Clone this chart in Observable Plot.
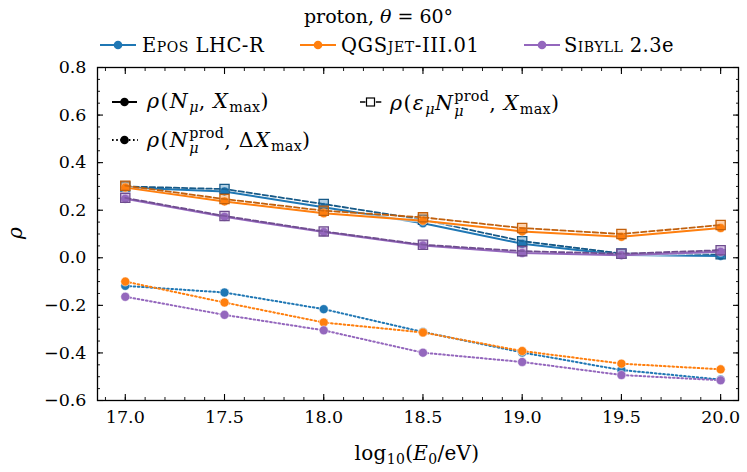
<!DOCTYPE html>
<html><head><meta charset="utf-8">
<script src="https://cdn.jsdelivr.net/npm/d3@7"></script>
<script src="https://cdn.jsdelivr.net/npm/@observablehq/plot@0.6"></script>
<style>
body{margin:0;background:#fff;}
#wrap{position:relative;width:747px;height:472px;font-family:"DejaVu Serif","Liberation Serif","Times New Roman","Noto Serif",Times,serif;color:#000;overflow:hidden;}
#head{position:relative;height:58px;}
.abs{position:absolute;white-space:nowrap;line-height:1;}
.sc{font-variant:small-caps;}
.m{letter-spacing:1.4px;}
sub,sup{font-size:70%;line-height:0;letter-spacing:0.3px;}
sub{vertical-align:-0.3em;}
sup{vertical-align:0.55em;}
.ss{display:inline-block;font-size:70%;line-height:1.05;vertical-align:-0.42em;letter-spacing:0.3px;}
.ss span{display:block;}
i{font-style:italic;}
</style></head><body>
<div id="wrap">
  <div id="head">
    <div class="abs" style="left:0;width:757px;text-align:center;top:7px;font-size:19px;">proton, <i>θ</i> = 60°</div>
    <svg class="abs" style="left:99px;top:38px" width="38" height="14"><line x1="1" y1="7" x2="37" y2="7" stroke="#1f77b4" stroke-width="2"/><circle cx="19" cy="7" r="4.3" fill="#1f77b4"/></svg>
    <div class="abs" style="left:142px;top:36px;font-size:19.5px;letter-spacing:0.5px;"><span class="sc">Epos</span> LHC-R</div>
    <svg class="abs" style="left:299px;top:38px" width="38" height="14"><line x1="1" y1="7" x2="37" y2="7" stroke="#ff7f0e" stroke-width="2"/><circle cx="19" cy="7" r="4.3" fill="#ff7f0e"/></svg>
    <div class="abs" style="left:341px;top:36px;font-size:19.5px;letter-spacing:0.6px;">QGS<span class="sc">jet</span>-III.01</div>
    <svg class="abs" style="left:523px;top:38px" width="38" height="14"><line x1="1" y1="7" x2="37" y2="7" stroke="#9467bd" stroke-width="2"/><circle cx="19" cy="7" r="4.3" fill="#9467bd"/></svg>
    <div class="abs" style="left:564px;top:36px;font-size:19.5px;letter-spacing:0.4px;"><span class="sc">Sibyll</span> 2.3e</div>
  </div>
  <div id="chart"></div>
  <!-- inner legend -->
  <svg class="abs" style="left:111px;top:95px" width="28" height="14"><line x1="1" y1="7" x2="26" y2="7" stroke="#000" stroke-width="2"/><circle cx="13.5" cy="7" r="4.3" fill="#000"/></svg>
  <div class="abs m" style="left:147px;top:91px;font-size:20.5px;"><i>ρ</i>(<i>N</i><sub><i>μ</i></sub>,&#8197;<i>X</i><sub>max</sub>)</div>
  <svg class="abs" style="left:111px;top:133px" width="28" height="14"><line x1="1" y1="7" x2="27" y2="7" stroke="#000" stroke-width="2" stroke-dasharray="1.6,2.6"/><circle cx="13.5" cy="7" r="4.3" fill="#000"/></svg>
  <div class="abs m" style="left:147px;top:126px;font-size:20.5px;"><i>ρ</i>(<i>N</i><span class="ss"><span>prod</span><span><i>μ</i></span></span>,&#8197;Δ<i>X</i><sub>max</sub>)</div>
  <svg class="abs" style="left:359px;top:95px" width="24" height="14"><line x1="1" y1="7" x2="23" y2="7" stroke="#000" stroke-width="1.6" stroke-dasharray="5.5,2.4"/><rect x="7.5" y="3" width="8" height="8" fill="#fff" stroke="#000" stroke-width="1.2"/></svg>
  <div class="abs m" style="left:390px;top:89px;font-size:20.5px;"><i>ρ</i>(<i>ε</i><sub><i>μ</i></sub><i>N</i><span class="ss"><span>prod</span><span><i>μ</i></span></span>,&#8197;<i>X</i><sub>max</sub>)</div>
  <!-- axis labels -->
  <div class="abs" style="left:0;width:834px;text-align:center;top:443px;font-size:20px;letter-spacing:0.3px;">log<sub>10</sub>(<i>E</i><sub>0</sub>/eV)</div>
  <div class="abs" style="left:9px;top:223px;font-size:20px;transform:rotate(-90deg);transform-origin:center;"><i>ρ</i></div>
</div>
<script>
// ---- data ----
const energies = [17.0, 17.5, 18.0, 18.5, 19.0, 19.5, 20.0];
const models = ["Epos LHC-R", "QGSjet-III.01", "Sibyll 2.3e"];
const colors = ["#1f77b4", "#ff7f0e", "#9467bd"];
const darkColors = ["#175a88", "#c2600c", "#6f4d8f"];

// rho(N_mu, X_max)  — solid, circles
const rhoNmuXmax_epos = [0.295, 0.279, 0.212, 0.145, 0.059, 0.012, 0.008];
const rhoNmuXmax_qgs  = [0.295, 0.237, 0.187, 0.156, 0.111, 0.088, 0.125];
const rhoNmuXmax_sib  = [0.248, 0.172, 0.108, 0.052, 0.020, 0.011, 0.025];
// rho(eps_mu N_mu^prod, X_max) — dashed, squares
const rhoEpsNprodXmax_epos = [0.300, 0.289, 0.226, 0.160, 0.070, 0.018, 0.015];
const rhoEpsNprodXmax_qgs  = [0.303, 0.247, 0.198, 0.170, 0.125, 0.100, 0.138];
const rhoEpsNprodXmax_sib  = [0.252, 0.176, 0.111, 0.055, 0.028, 0.017, 0.032];
// rho(N_mu^prod, dX_max) — dotted, circles
const rhoNprodDXmax_epos = [-0.118, -0.146, -0.216, -0.312, -0.398, -0.472, -0.512];
const rhoNprodDXmax_qgs  = [-0.100, -0.188, -0.272, -0.314, -0.392, -0.445, -0.469];
const rhoNprodDXmax_sib  = [-0.164, -0.240, -0.305, -0.399, -0.438, -0.493, -0.515];

const majorX = [17.0, 17.5, 18.0, 18.5, 19.0, 19.5, 20.0];
const majorY = [-0.6, -0.4, -0.2, 0.0, 0.2, 0.4, 0.6, 0.8];

// ---- build tables ----
const solid = [rhoNmuXmax_epos, rhoNmuXmax_qgs, rhoNmuXmax_sib];
const dashed = [rhoEpsNprodXmax_epos, rhoEpsNprodXmax_qgs, rhoEpsNprodXmax_sib];
const dotted = [rhoNprodDXmax_epos, rhoNprodDXmax_qgs, rhoNprodDXmax_sib];
const toRows = arr => energies.map((e, i) => ({E: e, rho: arr[i]}));

const minorX = d3.range(169, 201).map(i => i / 10);
const minorY = d3.range(-12, 17).map(i => i * 0.05);
const fmtY = d => d.toFixed(1).replace("-", "\u2212");

const marks = [];
models.forEach((m, k) => {
  const c = colors[k], dc = darkColors[k];
  const s = toRows(solid[k]), d = toRows(dashed[k]), o = toRows(dotted[k]);
  marks.push(Plot.line(s, {x: "E", y: "rho", stroke: "white", strokeWidth: 4, strokeOpacity: 0.6}));
  marks.push(Plot.line(s, {x: "E", y: "rho", stroke: c, strokeWidth: 2}));
  marks.push(Plot.dot(s, {x: "E", y: "rho", r: 4.5, fill: c, stroke: "white", strokeOpacity: 0.5, strokeWidth: 1}));
  marks.push(Plot.line(d, {x: "E", y: "rho", stroke: dc, strokeWidth: 1.8, strokeDasharray: "5.5,2.6"}));
  marks.push(Plot.dot(d, {x: "E", y: "rho", symbol: "square", r: 5.2, fill: c, fillOpacity: 0.35, stroke: dc, strokeWidth: 1.3}));
  marks.push(Plot.line(o, {x: "E", y: "rho", stroke: c, strokeWidth: 2, strokeDasharray: "1.6,2.6"}));
  marks.push(Plot.dot(o, {x: "E", y: "rho", r: 4.5, fill: c, stroke: "white", strokeOpacity: 0.5, strokeWidth: 1}));
});

const chart = Plot.plot({
  width: 747, height: 414,
  marginTop: 9, marginBottom: 72, marginLeft: 97, marginRight: 9,
  x: {domain: [16.86, 20.09]},
  y: {domain: [-0.6, 0.8]},
  style: {fontFamily: "DejaVu Serif, Liberation Serif, Times New Roman, serif", fontSize: "17.5px", color: "black", background: "white", overflow: "visible"},
  marks: [
    ...marks,
    Plot.axisX({ticks: majorX, tickSize: 0, tickPadding: 10, tickFormat: d => d.toFixed(1), label: null}),
    Plot.axisY({ticks: majorY, tickSize: 0, tickPadding: 11, tickFormat: fmtY, label: null}),
    Plot.axisX({anchor: "bottom", ticks: majorX, tickSize: -6, tickFormat: () => "", label: null, strokeWidth: 1.1}),
    Plot.axisX({anchor: "bottom", ticks: minorX, tickSize: -3, tickFormat: () => "", label: null, strokeWidth: 0.9}),
    Plot.axisX({anchor: "top", ticks: majorX, tickSize: -6, tickFormat: () => "", label: null, strokeWidth: 1.1}),
    Plot.axisX({anchor: "top", ticks: minorX, tickSize: -3, tickFormat: () => "", label: null, strokeWidth: 0.9}),
    Plot.axisY({anchor: "left", ticks: majorY, tickSize: -6, tickFormat: () => "", label: null, strokeWidth: 1.1}),
    Plot.axisY({anchor: "left", ticks: minorY, tickSize: -3, tickFormat: () => "", label: null, strokeWidth: 0.9}),
    Plot.axisY({anchor: "right", ticks: majorY, tickSize: -6, tickFormat: () => "", label: null, strokeWidth: 1.1}),
    Plot.axisY({anchor: "right", ticks: minorY, tickSize: -3, tickFormat: () => "", label: null, strokeWidth: 0.9}),
    Plot.frame({stroke: "black", strokeWidth: 1.3})
  ]
});
document.getElementById("chart").appendChild(chart);
</script>
</body></html>
